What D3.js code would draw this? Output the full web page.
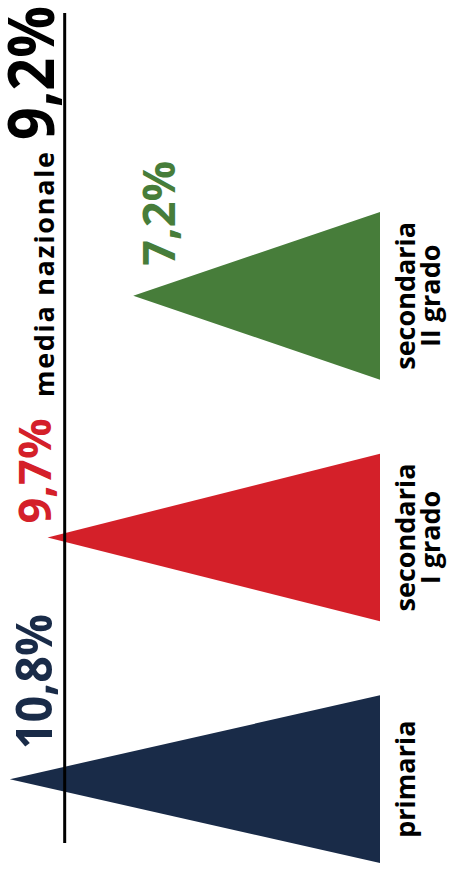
<!DOCTYPE html>
<html>
<head>
<meta charset="utf-8">
<script src="https://cdn.jsdelivr.net/npm/d3@7/dist/d3.min.js"></script>
<style>
  html, body { margin: 0; padding: 0; background: #ffffff; }
  svg { display: block; }
  text { font-family: "Open Sans", "Noto Sans", sans-serif; }
</style>
</head>
<body>
<div id="chart"></div>
<script>
// ---- data ----
const categories = ["primaria", "secondaria I grado", "secondaria II grado"];
const categoryLines = [["primaria"], ["secondaria", "I grado"], ["secondaria", "II grado"]];
const values = [10.8, 9.7, 7.2];
const valueLabels = ["10,8%", "9,7%", "7,2%"];
const meanValue = 9.2;
const meanTitle = "media nazionale";
const meanLabel = "9,2%";

// ---- styles ----
const palette = ["#192b48", "#d42029", "#477d3a"];

const W = 449, H = 876;
const svg = d3.select("#chart").append("svg").attr("width", W).attr("height", H);

const rows = categories.map((c, i) => ({ cat: c, lines: categoryLines[i], value: values[i], label: valueLabels[i] }));
const color = d3.scaleOrdinal(categories, palette);

// value axis runs horizontally, from base (right) to tip (left)
const x = d3.scaleLinear().domain([0, 11]).range([380, 3]);
// categories stacked vertically, first at the bottom
const y = d3.scaleBand().domain(categories).range([900, 175]).paddingInner(0.306).paddingOuter(0.153);
const bw = y.bandwidth();

// triangles
svg.append("g").selectAll("path").data(rows).join("path")
  .attr("d", d => {
    const y0 = y(d.cat);
    const p = d3.path();
    p.moveTo(x(0), y0);
    p.lineTo(x(d.value), y0 + bw / 2);
    p.lineTo(x(0), y0 + bw);
    p.closePath();
    return p.toString();
  })
  .attr("fill", d => color(d.cat));

// national mean line
const mx = x(meanValue);
const lineTop = 13, lineBottom = 843;
svg.append("line")
  .attr("x1", mx).attr("x2", mx)
  .attr("y1", lineTop).attr("y2", lineBottom)
  .attr("stroke", "#000").attr("stroke-width", 3);

// mean label (rotated, set just left of the line)
const meanBase = mx - 11;
svg.append("text")
  .attr("transform", `translate(${meanBase},6) rotate(-90)`)
  .attr("text-anchor", "end")
  .attr("font-size", 64).attr("font-weight", 700)
  .attr("textLength", 134).attr("lengthAdjust", "spacingAndGlyphs")
  .attr("fill", "#000")
  .text(meanLabel);
svg.append("text")
  .attr("transform", `translate(${meanBase},152) rotate(-90)`)
  .attr("text-anchor", "end")
  .attr("font-size", 27).attr("font-weight", 700)
  .attr("textLength", 245).attr("lengthAdjust", "spacing")
  .attr("fill", "#000")
  .text(meanTitle);

// value labels
const valueFont = d => d.value > 10 ? 50 : 45;
svg.append("g").selectAll("text").data(rows).join("text")
  .attr("transform", d => {
    let lx = x(d.value) + 42;
    let off = 30;
    const h = valueFont(d) * 0.72;
    if (lx > mx - 12 && lx - h < mx + 2) { lx = mx - 14; off = 14; }
    const cy = y(d.cat) + bw / 2 - off;
    return `translate(${lx},${cy}) rotate(-90)`;
  })
  .attr("text-anchor", "start")
  .attr("font-size", valueFont).attr("font-weight", 700)
  .attr("textLength", d => d.value > 10 ? 135 : 105).attr("lengthAdjust", "spacingAndGlyphs")
  .attr("fill", d => color(d.cat))
  .text(d => d.label);

// category labels
const catG = svg.append("g").selectAll("text").data(rows).join("text")
  .attr("transform", d => `translate(415,${y(d.cat) + bw / 2}) rotate(-90)`)
  .attr("text-anchor", "middle")
  .attr("font-size", 27).attr("font-weight", 700)
  .attr("fill", "#000");
catG.selectAll("tspan").data(d => d.lines).join("tspan")
  .attr("x", 0)
  .attr("y", (l, i) => i * 25)
  .text(l => l);
</script>
</body>
</html>
